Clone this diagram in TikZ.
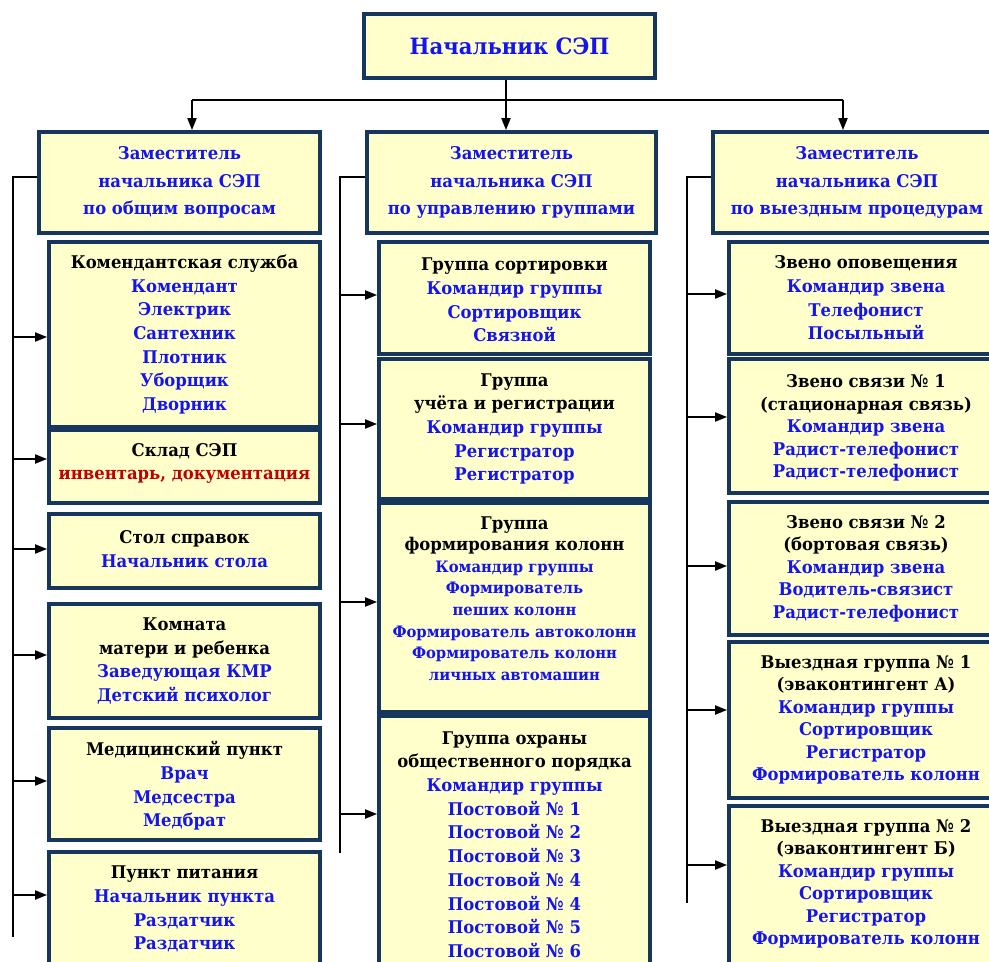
\documentclass[tikz,border=0pt]{standalone}
\usepackage{fontspec}
\setmainfont{DejaVu Serif}[FakeStretch=0.94]
\usetikzlibrary{arrows.meta}
\definecolor{navy}{RGB}{23,54,93}
\definecolor{boxfill}{RGB}{255,255,204}
\definecolor{tblue}{RGB}{20,20,240}
\definecolor{tred}{RGB}{192,0,0}
\newcommand\Bl[1]{\textcolor{tblue}{#1}}
\newcommand\Rd[1]{\textcolor{tred}{#1}}
\tikzset{
  box/.style={draw=navy, line width=3.8pt, fill=boxfill, inner sep=0pt},
  txt/.style={align=center, inner sep=0pt, text=black, font=\bfseries\fontsize{17.5}{23.7}\selectfont},
  deptxt/.style={txt, font=\bfseries\fontsize{17.5}{27.5}\selectfont},
  rtxt/.style={txt, font=\bfseries\fontsize{17.5}{22.5}\selectfont},
  smtxt/.style={txt, font=\bfseries\fontsize{15.75}{21.6}\selectfont},
  conn/.style={line width=2pt, black},
  arr/.style={conn, -{Triangle[length=12pt,width=9pt]}},
}
% \mybox[text yshift]{name}{x1}{y1}{x2}{y2}{text style}{text}
\newcommand\mybox[8][0]{%
  \node[box, minimum width={#5-#3}, minimum height={#6-#4}] (#2) at ({(#3+#5)/2},{(#4+#6)/2}) {};
  \node[#7, yshift=#1] at (#2.center) {#8};}
\newcommand\arrto[3]{\draw[arr] ([yshift=#3]#2.west -| #1) -- ([yshift=#3]#2.west);}
\begin{document}
\begin{tikzpicture}[x=1pt,y=-1pt]
\clip (0,0) rectangle (989,962);
\fill[white] (0,0) rectangle (989,962);

% head
\node[box, minimum width=291, minimum height=64] (top) at (509.5,46) {};
\node[txt, font=\bfseries\fontsize{22.5}{28}\selectfont, text=tblue] at (top.center) {Начальник СЭП};

% deputies
\mybox{d1}{39}{132}{320}{233}{deptxt}{\Bl{Заместитель}\\\Bl{начальника СЭП}\\\Bl{по общим вопросам}}
\mybox{d2}{367}{132}{656}{233}{deptxt}{\Bl{Заместитель}\\\Bl{начальника СЭП}\\\Bl{по управлению группами}}
\mybox{d3}{713}{132}{1001}{233}{deptxt}{\Bl{Заместитель}\\\Bl{начальника СЭП}\\\Bl{по выездным процедурам}}

% top connectors
\coordinate (jc) at (506,100);
\coordinate (hl) at (192,100);
\coordinate (hr) at (843,100);
\draw[conn] (hl) -- (hr);
\draw[arr] (jc |- top.south) -- (jc |- d2.north);
\draw[arr] (hl) -- (hl |- d1.north);
\draw[arr] (hr) -- (hr |- d3.north);

% left column
\mybox{k1}{49}{242}{320}{427}{txt}{Комендантская служба\\\Bl{Комендант}\\\Bl{Электрик}\\\Bl{Сантехник}\\\Bl{Плотник}\\\Bl{Уборщик}\\\Bl{Дворник}}
\mybox[3]{k2}{49}{430}{320}{503}{txt}{Склад СЭП\\\Rd{инвентарь, документация}}
\mybox[2]{k3}{49}{514}{320}{588}{txt}{Стол справок\\\Bl{Начальник стола}}
\mybox{k4}{49}{604}{320}{718}{txt}{Комната\\матери и ребенка\\\Bl{Заведующая КМР}\\\Bl{Детский психолог}}
\mybox[-2]{k5}{49}{728}{320}{840}{txt}{Медицинский пункт\\\Bl{Врач}\\\Bl{Медсестра}\\\Bl{Медбрат}}
\mybox{k6}{49}{852}{320}{966}{txt}{Пункт питания\\\Bl{Начальник пункта}\\\Bl{Раздатчик}\\\Bl{Раздатчик}}

% middle column
\mybox[-2]{m1}{379}{242}{650}{354}{txt}{Группа сортировки\\\Bl{Командир группы}\\\Bl{Сортировщик}\\\Bl{Связной}}
\mybox{m2}{379}{359}{650}{499}{txt}{Группа\\учёта и регистрации\\\Bl{Командир группы}\\\Bl{Регистратор}\\\Bl{Регистратор}}
\mybox[9]{m3}{379}{503}{650}{712}{smtxt}{{\fontsize{17.5}{21.6}\selectfont Группа}\\{\fontsize{17.5}{21.6}\selectfont формирования колонн}\\\Bl{Командир группы}\\\Bl{Формирователь}\\\Bl{пеших колонн}\\\Bl{Формирователь автоколонн}\\\Bl{Формирователь колонн}\\\Bl{личных автомашин}}
\mybox{m4}{379}{716}{650}{973}{txt}{Группа охраны\\общественного порядка\\\Bl{Командир группы}\\\Bl{Постовой № 1}\\\Bl{Постовой № 2}\\\Bl{Постовой № 3}\\\Bl{Постовой № 4}\\\Bl{Постовой № 4}\\\Bl{Постовой № 5}\\\Bl{Постовой № 6}}

% right column
\mybox{r1}{729}{242}{1003}{354}{txt}{Звено оповещения\\\Bl{Командир звена}\\\Bl{Телефонист}\\\Bl{Посыльный}}
\mybox[-2]{r2}{729}{359}{1003}{493}{rtxt}{Звено связи № 1\\(стационарная связь)\\\Bl{Командир звена}\\\Bl{Радист-телефонист}\\\Bl{Радист-телефонист}}
\mybox{r3}{729}{502}{1003}{635}{rtxt}{Звено связи № 2\\(бортовая связь)\\\Bl{Командир звена}\\\Bl{Водитель-связист}\\\Bl{Радист-телефонист}}
\mybox{r4}{729}{642}{1003}{798}{rtxt}{Выездная группа № 1\\(эваконтингент А)\\\Bl{Командир группы}\\\Bl{Сортировщик}\\\Bl{Регистратор}\\\Bl{Формирователь колонн}}
\mybox[2]{r5}{729}{806}{1003}{966}{rtxt}{Выездная группа № 2\\(эваконтингент Б)\\\Bl{Командир группы}\\\Bl{Сортировщик}\\\Bl{Регистратор}\\\Bl{Формирователь колонн}}

% spines
\coordinate (s1) at (13,937);
\coordinate (s2) at (340,853);
\coordinate (s3) at (687,903);
\draw[conn] ([yshift=5.5]d1.west) -| (s1);
\draw[conn] ([yshift=5.5]d2.west) -| (s2);
\draw[conn] ([yshift=5.5]d3.west) -| (s3);

\arrto{s1}{k1}{-2.5}
\arrto{s1}{k2}{7.5}
\arrto{s1}{k3}{2}
\arrto{s1}{k4}{6}
\arrto{s1}{k5}{3}
\arrto{s1}{k6}{14}
\arrto{s2}{m1}{3}
\arrto{s2}{m2}{5}
\arrto{s2}{m3}{5.5}
\arrto{s2}{m4}{30.5}
\arrto{s3}{r1}{4}
\arrto{s3}{r2}{9}
\arrto{s3}{r3}{2.5}
\arrto{s3}{r4}{10}
\arrto{s3}{r5}{21}
\end{tikzpicture}
\end{document}
